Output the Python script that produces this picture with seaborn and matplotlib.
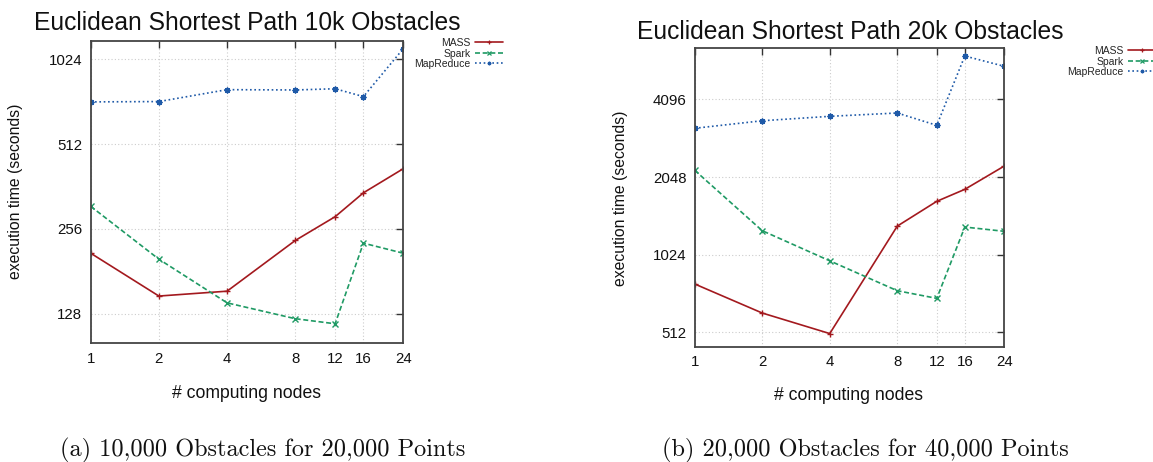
import matplotlib
matplotlib.use("Agg")
import matplotlib.pyplot as plt
import matplotlib.ticker as mticker
import seaborn as sns
import pandas as pd

# ---------------- data ----------------
nodes = [1, 2, 4, 8, 12, 16, 24]
series_names = ["MASS", "Spark", "MapReduce"]

mass_10k = [210, 148, 154, 233, 283, 344, 419]
spark_10k = [308, 200, 140, 123, 118, 228, 210]
mapreduce_10k = [723, 725, 799, 797, 805, 755, 1117]

mass_20k = [789, 609, 507, 1322, 1649, 1835, 2259]
spark_20k = [2175, 1269, 970, 743, 694, 1311, 1262]
mapreduce_20k = [3163, 3383, 3519, 3625, 3248, 6026, 5497]

y_ticks_10k = [128, 256, 512, 1024]
y_ticks_20k = [512, 1024, 2048, 4096]
x_tick_labels = ["1", "2", "4", "8", "12", "16", "24"]

titles = ["Euclidean Shortest Path 10k Obstacles",
          "Euclidean Shortest Path 20k Obstacles"]
captions = ["(a) 10,000 Obstacles for 20,000 Points",
            "(b) 20,000 Obstacles for 40,000 Points"]
x_label = "# computing nodes"
y_label = "execution time (seconds)"

# ---------------- style ----------------
sns.set_style("white")
plt.rcParams["font.family"] = ["Liberation Sans", "DejaVu Sans"]

colors = {"MASS": "#a3191e", "Spark": "#1f9a64", "MapReduce": "#1f5aa8"}
dashes = {"MASS": "", "Spark": (3, 1.6), "MapReduce": (1, 1.6)}
markers = {"MASS": "+", "Spark": "x", "MapReduce": (8, 2, 0)}

W, H = 1153, 462
fig = plt.figure(figsize=(W / 100, H / 100), dpi=100)


def px_axes(x0, y0, x1, y1):
    return fig.add_axes([x0 / W, 1 - y1 / H, (x1 - x0) / W, (y1 - y0) / H])


panels = [
    dict(box=(90.7, 40.7, 403.3, 343.3), ylim=(100.6, 1192),
         yticks=y_ticks_10k,
         data={"MASS": mass_10k, "Spark": spark_10k, "MapReduce": mapreduce_10k},
         title_xy=(247, 23), ylab_xy=(15.7, 191.5), xlab_xy=(247, 393),
         leg_xy=(503, 38), cap_xy=(60, 456.7)),
    dict(box=(694.7, 48.3, 1004.3, 346.7), ylim=(451, 6455),
         yticks=y_ticks_20k,
         data={"MASS": mass_20k, "Spark": spark_20k, "MapReduce": mapreduce_20k},
         title_xy=(850, 32), ylab_xy=(620, 198), xlab_xy=(849, 395),
         leg_xy=(1156, 46), cap_xy=(662, 456.7)),
]

for i, p in enumerate(panels):
    ax = px_axes(*p["box"])
    rows = []
    for name in series_names:
        for n, v in zip(nodes, p["data"][name]):
            rows.append({"nodes": n, "time": v, "series": name})
    df = pd.DataFrame(rows)

    sns.lineplot(data=df, x="nodes", y="time", hue="series", style="series",
                 palette=colors, dashes=dashes, markers=markers,
                 hue_order=series_names, style_order=series_names,
                 linewidth=1.2, markersize=4.2, markeredgewidth=1.0,
                 ax=ax, legend=True)
    for ln in ax.lines:
        ln.set_markeredgecolor(ln.get_color())

    ax.set_xscale("log", base=2)
    ax.set_yscale("log", base=2)
    ax.set_xlim(1, 24)
    ax.set_ylim(*p["ylim"])
    ax.xaxis.set_major_locator(mticker.FixedLocator(nodes))
    ax.xaxis.set_major_formatter(mticker.FixedFormatter(x_tick_labels))
    ax.xaxis.set_minor_locator(mticker.NullLocator())
    ax.yaxis.set_major_locator(mticker.FixedLocator(p["yticks"]))
    ax.yaxis.set_major_formatter(mticker.FixedFormatter([str(t) for t in p["yticks"]]))
    ax.yaxis.set_minor_locator(mticker.NullLocator())

    ax.grid(True, which="major", color="#cccccc", linestyle=(0, (1, 2)), linewidth=0.8)
    ax.tick_params(direction="in", length=5, width=1.0, color="#333333",
                   top=True, right=True, labelsize=10.8, pad=6,
                   labelcolor="#111111")
    for s in ax.spines.values():
        s.set_color("#444444")
        s.set_linewidth(1.3)
    ax.set_xlabel("")
    ax.set_ylabel("")

    handles, labels = ax.get_legend_handles_labels()
    for h in handles:
        h.set_markeredgecolor(h.get_color())
        h.set_markeredgewidth(0.9)
    ax.legend(handles, labels, loc="upper right",
              bbox_to_anchor=(p["leg_xy"][0] / W, 1 - p["leg_xy"][1] / H),
              bbox_transform=fig.transFigure, frameon=False, markerfirst=False,
              fontsize=7.5, handlelength=2.7, labelspacing=0.05, borderpad=0,
              borderaxespad=0, handletextpad=0.4, markerscale=0.6)

    tx, ty = p["title_xy"]
    fig.text(tx / W, 1 - ty / H, titles[i], ha="center", va="center",
             fontsize=17.7, color="#111111")
    lx, ly = p["ylab_xy"]
    fig.text(lx / W, 1 - ly / H, y_label, ha="center", va="center",
             rotation=90, fontsize=11.3, color="#111111")
    xx, xy = p["xlab_xy"]
    fig.text(xx / W, 1 - xy / H, x_label, ha="center", va="center",
             fontsize=12.7, color="#111111")
    cx, cy = p["cap_xy"]
    fig.text(cx / W, 1 - cy / H, captions[i], ha="left", va="baseline",
             fontsize=17.5, family="cmr10", color="#111111")

fig.savefig("out.png", dpi=100)
